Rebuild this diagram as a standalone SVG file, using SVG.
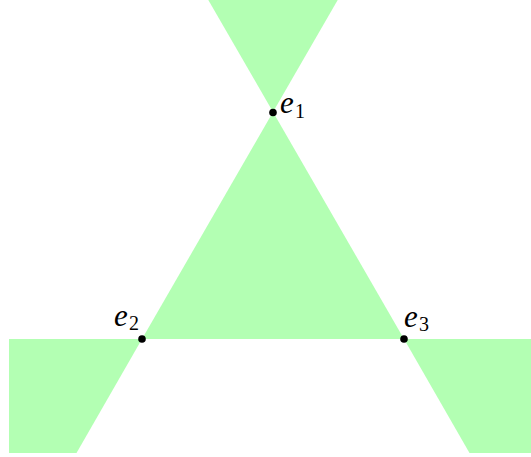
<svg xmlns="http://www.w3.org/2000/svg" width="531" height="457" viewBox="0 0 531 457">
<style>
.fill{fill:#b3ffb3;stroke:none}
.dot{fill:#000}
.lbl{font-family:"Liberation Serif",serif;font-style:italic;font-size:31px;fill:#000}
.sub{font-family:"Liberation Serif",serif;font-size:20px;fill:#000}
</style>
<g id="regions">
<polygon class="fill" points="208.3,0 337.7,0 273,112"/>
<polygon class="fill" points="273,112 142,339 404,339"/>
<polygon class="fill" points="9,339 142,339 76.5,453 9,453"/>
<polygon class="fill" points="404,339 531,339 531,453 469.5,453"/>
</g>
<g id="e1">
<circle class="dot" cx="273" cy="112.5" r="3.8"/>
<text class="lbl" x="280" y="113">e</text><text class="sub" x="295" y="118">1</text>
</g>
<g id="e2">
<circle class="dot" cx="142" cy="339" r="3.8"/>
<text class="lbl" x="114" y="326">e</text><text class="sub" x="129" y="330">2</text>
</g>
<g id="e3">
<circle class="dot" cx="404" cy="339" r="3.8"/>
<text class="lbl" x="404" y="327">e</text><text class="sub" x="419" y="331">3</text>
</g>
</svg>
